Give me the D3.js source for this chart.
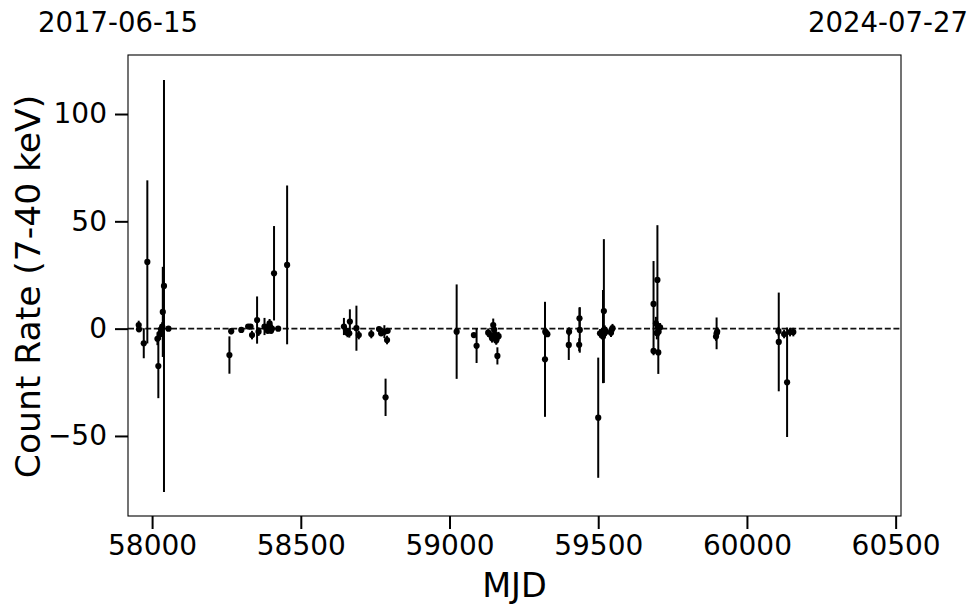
<!DOCTYPE html>
<html>
<head>
<meta charset="utf-8">
<script src="https://cdn.jsdelivr.net/npm/d3@7"></script>
<style>
  html, body { margin: 0; padding: 0; background: #fff; }
  text { font-family: "DejaVu Sans", sans-serif; fill: #000; }
</style>
</head>
<body>
<svg id="chart" width="980" height="613"></svg>
<script>
// ---- data ----
const mjd = [
  57955, 57956, 57972, 57984, 58018, 58021, 58027, 58030, 58032, 58034, 58036, 58040, 58055,
  58260, 58266, 58300, 58323, 58331, 58336, 58353, 58358, 58378, 58385, 58389, 58392, 58395, 58397, 58400, 58403, 58410, 58424, 58454,
  58645, 58652, 58657, 58663, 58665, 58687, 58695, 58737, 58763, 58770, 58781, 58785, 58790, 58792,
  59024, 59082, 59091, 59130, 59138, 59143, 59147, 59150, 59153, 59157, 59161, 59165,
  59321, 59322, 59325, 59329, 59401, 59402, 59436, 59437, 59438, 59500, 59506, 59512, 59516, 59519, 59522, 59526, 59543, 59545, 59548,
  59686, 59686, 59694, 59697, 59699, 59702, 59703, 59705, 59708,
  59896, 59898, 59900,
  60106, 60107, 60125, 60135, 60145, 60156
];
const rate = [
  1.7, -0.3, -6.8, 31.1, -4.7, -17.4, -2.2, -0.3, -1.9, 1.0, 7.8, 19.9, 0.0,
  -12.3, -1.2, -0.6, 1.0, 1.0, -3.0, 4.0, -1.4, 1.0, 0.0, -1.0, 1.0, 2.5, 1.0, -1.0, 0.0, 25.8, 0.0, 29.7,
  1.0, -1.0, -2.0, -2.2, 3.3, 0.2, -3.0, -2.5, -0.2, -2.2, -1.4, -32.0, -5.3, -1.0,
  -1.4, -3.0, -8.0, -1.9, -3.0, -4.5, 1.7, -0.5, -2.5, -5.5, -12.7, -3.5,
  -14.3, -1.4, -2.0, -2.6, -7.6, -1.4, -7.5, 4.8, -0.6, -41.5, -2.2, -1.9, -3.7, 8.2, -0.5, -1.4, -1.9, -0.6, 0.2,
  11.5, -10.4, 2.5, -2.0, 22.7, -11.1, -1.5, 0.5, 0.6,
  -3.7, -2.2, -1.4,
  -1.2, -6.2, -2.5, -25.0, -1.6, -1.6
];
const rateErr = [
  2, 1, 7, 38, 3, 15, 3, 2, 2, 2, 21, 96, 1,
  8.7, 1.5, 1, 1, 1, 2, 11, 2, 4, 1, 1, 1, 2, 1, 1, 1, 22, 1, 37,
  4, 2, 2, 2, 5.7, 10.5, 2, 2, 1, 1, 3, 8.7, 2, 1,
  22, 1, 8, 2, 2, 2, 3, 2, 2, 2, 4, 2,
  26.8, 1, 1, 1, 7, 2, 3, 5, 10.6, 28, 2, 2, 21.7, 33.5, 2, 2, 2, 2, 2,
  20, 2, 3, 3, 25.5, 10, 2, 2, 2,
  2, 7.4, 2,
  2, 23, 2, 25.5, 2, 2
];
const xTicks = [58000, 58500, 59000, 59500, 60000, 60500];
const yTicks = [-50, 0, 50, 100];
const dateLabels = ["2017-06-15", "2024-07-27"];
const xTitle = "MJD";
const yTitle = "Count Rate (7-40 keV)";

// ---- layout ----
const L = 128, R = 901, T = 55, B = 516;
const svg = d3.select("#chart");
const x = d3.scaleLinear().domain([57919, 60518]).range([L, R]);
const y = d3.scaleLinear().domain([-87.3, 127.5]).range([B, T]);

const pts = mjd.map((m, i) => ({ m, v: rate[i], e: rateErr[i] }));

const plot = svg.append("g");
plot.append("defs").append("clipPath").attr("id", "clip")
  .append("rect").attr("x", L).attr("y", T).attr("width", R - L).attr("height", B - T);
const g = plot.append("g").attr("clip-path", "url(#clip)");

// zero line
g.append("line")
  .attr("x1", L).attr("x2", R).attr("y1", y(0)).attr("y2", y(0))
  .attr("stroke", "#111").attr("stroke-width", 1.6).attr("stroke-dasharray", "6,2.6");

// error bars
g.selectAll("line.err").data(pts).enter().append("line").attr("class", "err")
  .attr("x1", d => x(d.m)).attr("x2", d => x(d.m))
  .attr("y1", d => y(d.v - d.e)).attr("y2", d => y(d.v + d.e))
  .attr("stroke", "#000").attr("stroke-width", 2);

// points
g.selectAll("circle").data(pts).enter().append("circle")
  .attr("cx", d => x(d.m)).attr("cy", d => y(d.v)).attr("r", 3.1)
  .attr("fill", "#000");

// frame
svg.append("rect").attr("x", L).attr("y", T).attr("width", R - L).attr("height", B - T)
  .attr("fill", "none").attr("stroke", "#000").attr("stroke-width", 1.1);

// x axis
const xAxis = d3.axisBottom(x).tickValues(xTicks).tickFormat(d3.format("d")).tickSize(13).tickPadding(6);
const xg = svg.append("g").attr("transform", `translate(0,${B})`).call(xAxis);
xg.select(".domain").remove();
xg.selectAll(".tick line").attr("stroke", "#000").attr("stroke-width", 2);
xg.selectAll(".tick text").attr("font-size", 28).attr("font-family", "DejaVu Sans").attr("fill", "#000");

// y axis
const yFmt = d => (d < 0 ? "\u2212" + Math.abs(d) : String(d));
const yAxis = d3.axisLeft(y).tickValues(yTicks).tickFormat(yFmt).tickSize(13).tickPadding(8);
const yg = svg.append("g").attr("transform", `translate(${L},0)`).call(yAxis);
yg.select(".domain").remove();
yg.selectAll(".tick line").attr("stroke", "#000").attr("stroke-width", 2);
yg.selectAll(".tick text").attr("font-size", 28).attr("font-family", "DejaVu Sans").attr("fill", "#000");

// titles
svg.append("text").attr("x", (L + R) / 2).attr("y", 597).attr("text-anchor", "middle")
  .attr("font-size", 33.5).text(xTitle);
svg.append("text").attr("transform", `translate(40,${(T + B) / 2 + 1}) rotate(-90)`)
  .attr("text-anchor", "middle").attr("font-size", 34.5).text(yTitle);

// date labels at top
svg.append("text").attr("x", 118).attr("y", 32).attr("text-anchor", "middle")
  .attr("font-size", 27.5).text(dateLabels[0]);
svg.append("text").attr("x", 888).attr("y", 32).attr("text-anchor", "middle")
  .attr("font-size", 27.5).text(dateLabels[1]);
</script>
</body>
</html>
